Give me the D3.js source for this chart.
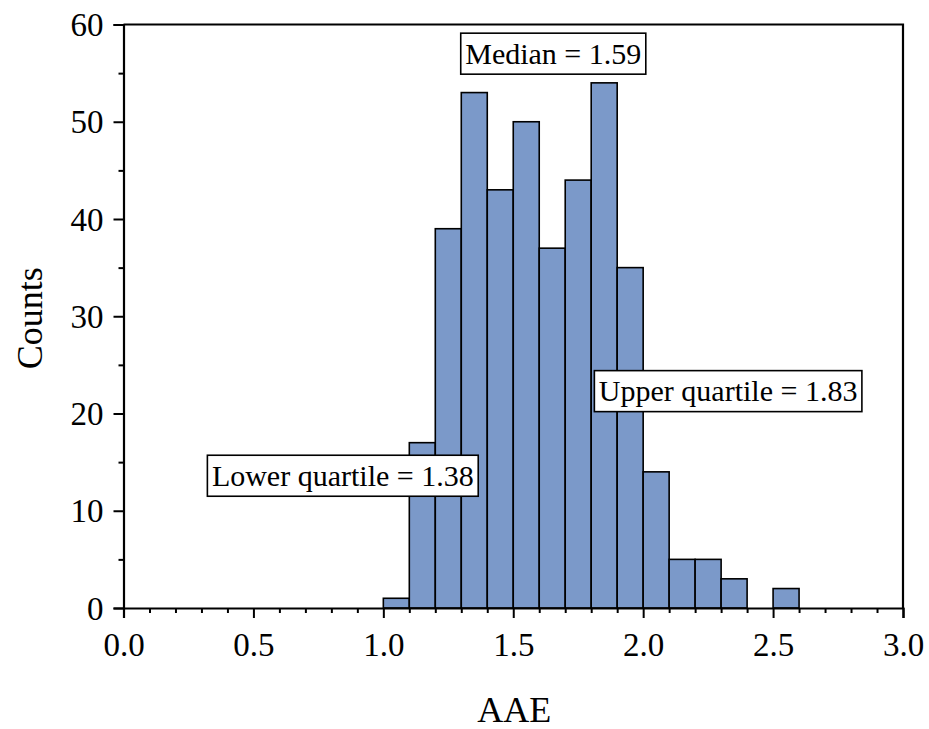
<!DOCTYPE html>
<html>
<head>
<meta charset="utf-8">
<script src="https://cdn.jsdelivr.net/npm/d3@7"></script>
<style>
  html, body { margin: 0; padding: 0; background: #fff; }
  svg { display: block; font-family: "Liberation Serif", "Times New Roman", serif; }
</style>
</head>
<body>
<svg id="chart" width="929" height="729"></svg>
<script>
// Histogram of AAE values, bin width 0.1
const binStarts = [1.0, 1.1, 1.2, 1.3, 1.4, 1.5, 1.6, 1.7, 1.8, 1.9, 2.0, 2.1, 2.2, 2.3, 2.4, 2.5];
const binCounts = [1, 17, 39, 53, 43, 50, 37, 44, 54, 35, 14, 5, 5, 3, 0, 2];
const binWidth = 0.1;

const xTicks = [0.0, 0.5, 1.0, 1.5, 2.0, 2.5, 3.0];
const yTicks = [0, 10, 20, 30, 40, 50, 60];

const statLabels = ["Median = 1.59", "Upper quartile = 1.83", "Lower quartile = 1.38"];

const W = 929, H = 729;
const margin = { left: 123.5, right: 26, top: 24.5, bottom: 121 };
const serif = '"Liberation Serif", "Times New Roman", serif';

const svg = d3.select("#chart");

const x = d3.scaleLinear().domain([0, 3]).range([margin.left, W - margin.right]);
const y = d3.scaleLinear().domain([0, 60]).range([H - margin.bottom, margin.top]);

const bars = binStarts.map((s, i) => ({ x0: s, x1: s + binWidth, n: binCounts[i] }))
  .filter(d => d.n > 0);

// bars
svg.append("g").selectAll("rect").data(bars).join("rect")
  .attr("x", d => x(d.x0))
  .attr("y", d => y(d.n))
  .attr("width", d => x(d.x1) - x(d.x0))
  .attr("height", d => y(0) - y(d.n))
  .attr("fill", "#7b99c9")
  .attr("stroke", "#000")
  .attr("stroke-width", 1.6);

// frame (top and right sides)
svg.append("path")
  .attr("d", `M${x(0)},${y(60)}H${x(3)}V${y(0)}`)
  .attr("fill", "none").attr("stroke", "#000").attr("stroke-width", 2.2);

// x axis: major and minor ticks
svg.append("g").attr("transform", `translate(0,${y(0)})`)
  .call(d3.axisBottom(x).tickValues(xTicks).tickFormat(d3.format(".1f")).tickSize(10).tickPadding(15));
svg.append("g").attr("transform", `translate(0,${y(0)})`)
  .call(d3.axisBottom(x).tickValues(d3.range(0, 31).map(i => i / 10).filter(v => Math.round(v * 10) % 5 !== 0))
    .tickSize(5).tickFormat(""))
  .call(g => g.select(".domain").remove());

// y axis: major and minor ticks
const yAxis = svg.append("g").attr("transform", `translate(${x(0)},0)`)
  .call(d3.axisLeft(y).tickValues(yTicks).tickSize(10).tickPadding(10));
svg.append("g").attr("transform", `translate(${x(0)},0)`)
  .call(d3.axisLeft(y).tickValues([5, 15, 25, 35, 45, 55]).tickSize(5).tickFormat(""))
  .call(g => g.select(".domain").remove());

svg.selectAll(".domain").attr("stroke", "#000").attr("stroke-width", 2.2);
svg.selectAll(".tick line").attr("stroke", "#000").attr("stroke-width", 2);
svg.selectAll(".tick text")
  .attr("fill", "#000")
  .style("font-family", serif)
  .style("font-size", "33px");
yAxis.selectAll(".tick text").attr("dy", "0.34em");

// axis titles
svg.append("text")
  .attr("x", (x(0) + x(3)) / 2 + 1).attr("y", 722)
  .attr("text-anchor", "middle")
  .style("font-family", serif)
  .style("font-size", "36px")
  .text("AAE");
svg.append("text")
  .attr("transform", `translate(42,${(y(0) + y(60)) / 2 + 2}) rotate(-90)`)
  .attr("text-anchor", "middle")
  .style("font-family", serif)
  .style("font-size", "36px")
  .text("Counts");

// boxed statistic labels (centre positions in data units)
const labelAnchors = [
  { cx: 1.654, cy: 57.0 },
  { cx: 2.327, cy: 22.3 },
  { cx: 0.844, cy: 13.6 }
];
statLabels.forEach((txt, i) => {
  const a = labelAnchors[i];
  const g = svg.append("g");
  const rect = g.append("rect");
  const t = g.append("text")
    .attr("x", x(a.cx)).attr("y", y(a.cy))
    .attr("text-anchor", "middle").attr("dy", "0.33em")
    .style("font-family", serif)
    .style("font-size", "30px")
    .text(txt);
  const bb = t.node().getBBox();
  const padX = 4.5, boxH = 41;
  rect.attr("x", bb.x - padX).attr("y", y(a.cy) - boxH / 2)
    .attr("width", bb.width + 2 * padX).attr("height", boxH)
    .attr("fill", "#fff").attr("stroke", "#000").attr("stroke-width", 1.6);
});
</script>
</body>
</html>
